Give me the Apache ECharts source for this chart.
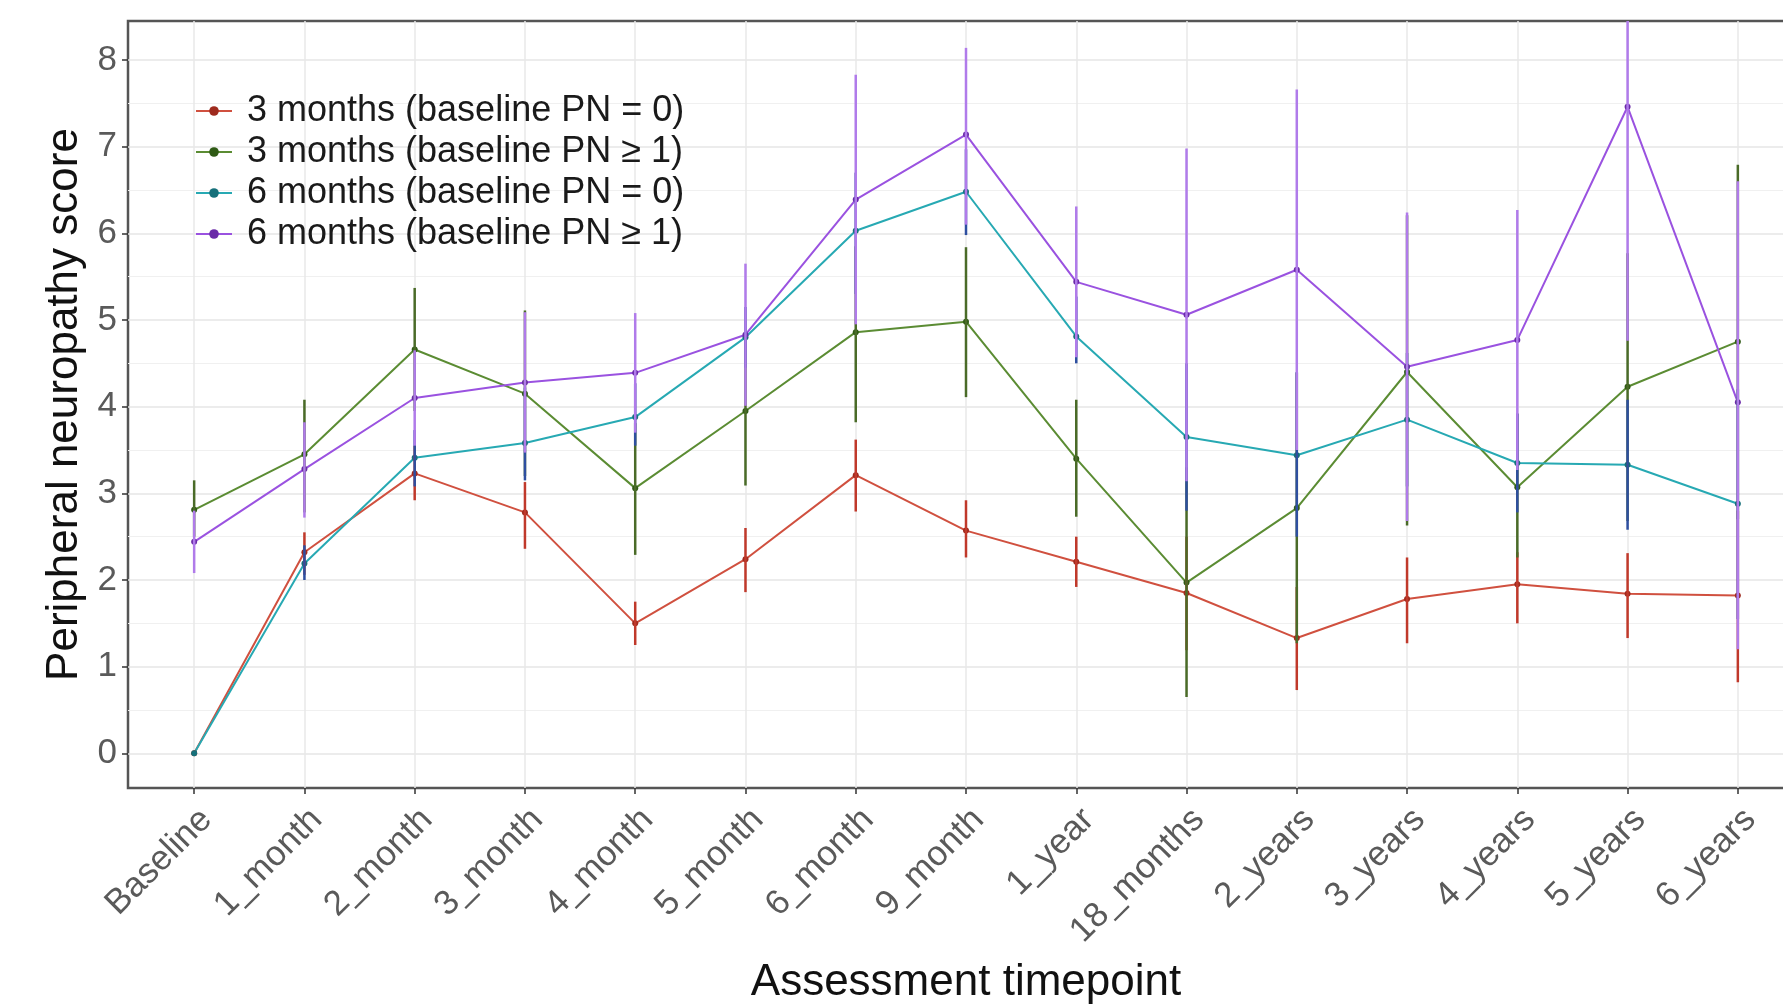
<!DOCTYPE html>
<html><head><meta charset="utf-8">
<script src="https://cdn.jsdelivr.net/npm/echarts@6/dist/echarts.min.js"></script>
<style>html,body{margin:0;padding:0;background:#fff;overflow:hidden}#c{width:1783px;height:1005px}</style>
</head><body><div id="c"></div>
<script>
const categories = ['Baseline','1_month','2_month','3_month','4_month','5_month','6_month','9_month','1_year','18_months','2_years','3_years','4_years','5_years','6_years'];
const seriesNames = ['3 months (baseline PN = 0)','3 months (baseline PN \u2265 1)','6 months (baseline PN = 0)','6 months (baseline PN \u2265 1)'];
const yTicks = [0,1,2,3,4,5,6,7,8];
const yMinorTicks = [0.5,1.5,2.5,3.5,4.5,5.5,6.5,7.5];

const m3pn0_mean = [0, 2.32, 3.23, 2.78, 1.50, 2.24, 3.21, 2.57, 2.21, 1.85, 1.33, 1.78, 1.95, 1.84, 1.82];
const m3pn0_lo   = [0, 2.06, 2.92, 2.36, 1.25, 1.86, 2.79, 2.26, 1.92, 1.19, 0.73, 1.27, 1.50, 1.33, 0.82];
const m3pn0_hi   = [0, 2.55, 3.55, 3.13, 1.75, 2.60, 3.62, 2.92, 2.50, 2.50, 1.92, 2.26, 2.32, 2.31, 2.80];

const m3pn1_mean = [2.81, 3.45, 4.66, 4.15, 3.06, 3.95, 4.86, 4.98, 3.40, 1.97, 2.83, 4.40, 3.07, 4.23, 4.75];
const m3pn1_lo   = [2.50, 2.78, 3.95, 3.20, 2.29, 3.09, 3.82, 4.11, 2.73, 0.65, 1.27, 2.63, 2.26, 2.68, 2.70];
const m3pn1_hi   = [3.15, 4.08, 5.37, 5.11, 3.81, 4.80, 5.85, 5.84, 4.08, 3.30, 4.39, 6.21, 3.92, 5.77, 6.79];

const m6pn0_mean = [0, 2.19, 3.41, 3.58, 3.88, 4.80, 6.03, 6.48, 4.81, 3.65, 3.44, 3.85, 3.35, 3.33, 2.88];
const m6pn0_lo   = [0, 2.00, 3.08, 3.15, 3.55, 4.45, 5.30, 5.98, 4.50, 2.80, 2.50, 3.08, 2.78, 2.58, 1.55];
const m6pn0_hi   = [0, 2.40, 3.73, 4.22, 4.27, 5.15, 6.70, 6.97, 5.27, 4.50, 4.40, 4.62, 3.92, 4.08, 4.20];

const m6pn1_mean = [2.44, 3.28, 4.10, 4.28, 4.39, 4.83, 6.39, 7.14, 5.44, 5.06, 5.58, 4.46, 4.77, 7.46, 4.05];
const m6pn1_lo   = [2.08, 2.72, 3.55, 3.47, 3.70, 4.01, 4.95, 6.10, 4.57, 3.14, 3.50, 2.68, 3.27, 4.76, 1.20];
const m6pn1_hi   = [2.80, 3.82, 4.65, 5.09, 5.08, 5.65, 7.83, 8.14, 6.31, 6.98, 7.66, 6.24, 6.27, 8.45, 6.60];

const groups = [
  {name: seriesNames[0], mean: m3pn0_mean, lo: m3pn0_lo, hi: m3pn0_hi, line: '#D0503F', bar: '#C0392B', pt: '#9E2A1E'},
  {name: seriesNames[1], mean: m3pn1_mean, lo: m3pn1_lo, hi: m3pn1_hi, line: '#5B8C33', bar: '#4A6B28', pt: '#2F5A15'},
  {name: seriesNames[2], mean: m6pn0_mean, lo: m6pn0_lo, hi: m6pn0_hi, line: '#27A9B3', bar: '#2E4FA0', pt: '#16707A'},
  {name: seriesNames[3], mean: m6pn1_mean, lo: m6pn1_lo, hi: m6pn1_hi, line: '#9A52E0', bar: '#B07BEA', pt: '#6A2AA8'}
];

const font = 'Liberation Sans, Arial, sans-serif';
const catIdx = categories.map((c, i) => i);
const series = [];
groups.forEach((g) => {
  series.push({
    name: g.name, type: 'line', z: 2,
    data: g.mean.map((v, i) => [i, v]),
    symbol: 'circle', symbolSize: 6,
    lineStyle: {color: g.line, width: 2},
    itemStyle: {color: g.pt},
    emphasis: {disabled: true}
  });
});
groups.forEach((g, gi) => {
  series.push({
    name: 'err' + gi, type: 'custom', z: 3,
    data: g.lo.map((v, i) => [i, v, g.hi[i]]),
    encode: {x: 0, y: [1, 2]},
    renderItem: (params, api) => {
      const x = api.value(0);
      const p1 = api.coord([x, api.value(1)]);
      const p2 = api.coord([x, api.value(2)]);
      return {type: 'line', shape: {x1: p1[0], y1: p1[1], x2: p2[0], y2: p2[1]},
              style: {stroke: g.bar, lineWidth: 2.5}};
    }
  });
});

const chart = echarts.init(document.getElementById('c'));
chart.setOption({
  animation: false,
  backgroundColor: '#fff',
  grid: {left: 128, right: -21, top: 21, bottom: 217, outerBoundsMode: 'none', containLabel: false,
         show: true, borderColor: '#555', borderWidth: 2.5, backgroundColor: '#fff'},
  legend: {
    data: seriesNames, orient: 'vertical', left: 190, top: 88,
    itemWidth: 36, itemHeight: 12, itemGap: 5,
    textStyle: {fontSize: 36, color: '#1a1a1a', fontFamily: font, lineHeight: 36, padding: [0, 0, 0, 10]}
  },
  xAxis: {
    type: 'value', min: -0.6, max: 14.6,
    axisLine: {show: false, onZero: false},
    axisTick: {show: true, length: 6, customValues: catIdx, lineStyle: {color: '#333', width: 1.5}},
    axisLabel: {customValues: catIdx, formatter: v => categories[Math.round(v)], rotate: 45, align: 'right', verticalAlign: 'top',
                margin: 14, fontSize: 35, color: '#5a5a5a', fontFamily: font},
    splitLine: {show: true, lineStyle: {color: '#e8e8e8', width: 1.5}},
    name: 'Assessment timepoint', nameLocation: 'middle', nameGap: 173,
    nameTextStyle: {fontSize: 44, color: '#111', fontFamily: font}
  },
  yAxis: [{
    type: 'value', min: -0.4, max: 8.45,
    axisLine: {show: false, onZero: false},
    axisTick: {show: true, length: 6, customValues: yTicks, lineStyle: {color: '#333', width: 1.5}},
    axisLabel: {customValues: yTicks, margin: 11, fontSize: 35, color: '#5a5a5a', fontFamily: font},
    splitLine: {show: true, lineStyle: {color: '#e6e6e6', width: 1.5}},
    name: 'Peripheral neuropathy score', nameLocation: 'middle', nameGap: 25, nameRotate: 90,
    nameTextStyle: {fontSize: 44, color: '#111', fontFamily: font}
  }, {
    type: 'value', min: -0.4, max: 8.45, position: 'left',
    axisLine: {show: false, onZero: false},
    axisTick: {show: false, customValues: yMinorTicks},
    axisLabel: {show: false, customValues: yMinorTicks},
    splitLine: {show: true, lineStyle: {color: '#f0f0f0', width: 1.2}}
  }],
  series: series
});
</script></body></html>
